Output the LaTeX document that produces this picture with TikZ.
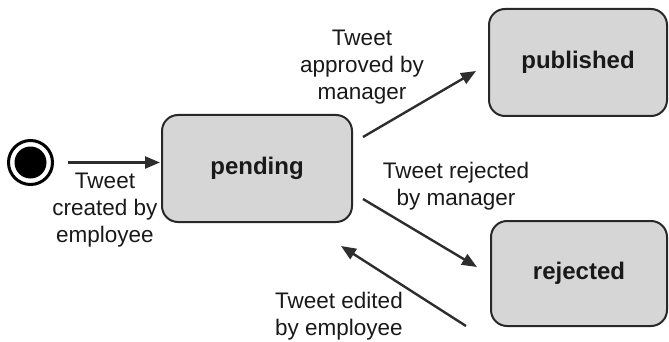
\documentclass[tikz,border=0pt]{standalone}
\usepackage{fontspec}
\setmainfont{Liberation Sans}
\usetikzlibrary{arrows.meta,calc}
\definecolor{boxfill}{RGB}{214,214,214}
\definecolor{boxline}{RGB}{40,40,40}
\definecolor{arrline}{RGB}{45,45,45}
\definecolor{txt}{RGB}{25,25,25}
\begin{document}
\begin{tikzpicture}[x=1pt,y=-1pt,
  statebox/.style={draw=boxline, fill=boxfill, line width=2pt, rounded corners=16pt,
    inner sep=0pt, font=\fontsize{24}{28}\selectfont\bfseries, text=txt},
  arr/.style={draw=arrline, line width=2.4pt, -{Triangle[length=15pt,width=12pt]}},
  lbl/.style={align=center, inner sep=0pt, text=txt, font=\fontsize{22.5}{27}\selectfont}]
\useasboundingbox (0,0) rectangle (669,342);
% initial state
\node[circle, draw=black, fill=white, line width=3pt, minimum size=44pt, inner sep=0pt] (init) at (30.5,162.5) {};
\node[circle, fill=black, minimum size=32pt, inner sep=0pt] (initdot) at (init.center) {};
% states
\node[statebox, minimum width=190pt, minimum height=107pt] (pending) at (257,168.5) {pending};
\node[statebox, minimum width=178pt, minimum height=107pt] (published) at (578,62.5) {published};
\node[statebox, minimum width=176pt, minimum height=105pt] (rejected) at (579,273.5) {rejected};
% transitions
\draw[arr, shorten <=14pt, shorten >=1pt] (init.east) -- (init.center -| pending.west);
\draw[arr] ($(pending.north east)+(10,23)$) -- ($(published.south west)+(-12,-46)$);
\draw[arr] ($(pending.south east)+(10,-24)$) -- ($(rejected.west)+(-13,-6.5)$);
\draw[arr] ($(rejected.south west)+(-24,-1)$) -- ($(pending.south east)+(-12,23)$);
% labels
\node[lbl] (lcreated) at (105,210) {Tweet\\created by\\employee};
\node[lbl] (lapproved) at (362,67) {Tweet\\approved by\\manager};
\node[lbl] (lrejected) at (456,186.5) {Tweet rejected\\by manager};
\node[lbl] (ledited) at (339,316.5) {Tweet edited\\by employee};
\end{tikzpicture}
\end{document}
